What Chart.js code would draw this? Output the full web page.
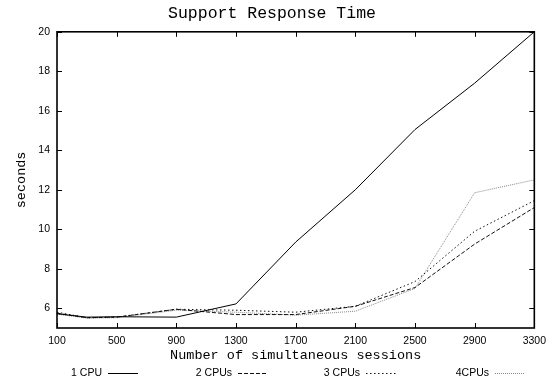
<!DOCTYPE html>
<html>
<head>
<meta charset="utf-8">
<script src="https://cdn.jsdelivr.net/npm/chart.js@4/dist/chart.umd.min.js"></script>
<style>
  html, body { margin: 0; padding: 0; background: #fff; }
  #wrap { width: 553px; height: 386px; }
</style>
</head>
<body>
<div id="wrap"><canvas id="response-chart"></canvas></div>
<script>
// values
const sessions = [100, 300, 500, 900, 1300, 1700, 2100, 2500, 2900, 3300];
const cpu1 = [5.72, 5.55, 5.57, 5.55, 6.22, 9.35, 12.0, 15.05, 17.4, 20.0];
const cpu2 = [5.75, 5.52, 5.55, 5.95, 5.68, 5.68, 6.1, 7.05, 9.25, 11.1];
const cpu3 = [5.8, 5.52, 5.55, 5.95, 5.9, 5.8, 6.1, 7.35, 9.9, 11.45];
const cpu4 = [5.7, 5.5, 5.52, 5.9, 5.8, 5.65, 5.85, 7.0, 11.85, 12.5];
const seriesLabels = ['1 CPU', '2 CPUs', '3 CPUs', '4CPUs'];
const xTicks = [100, 500, 900, 1300, 1700, 2100, 2500, 2900, 3300];
const yTicks = [6, 8, 10, 12, 14, 16, 18, 20];

const mono = "'Liberation Mono', 'Courier New', monospace";
const sans = "'Liberation Sans', Arial, sans-serif";

function toPoints(ys) {
    return sessions.map((x, i) => ({x: x, y: ys[i]}));
}

// gnuplot style frame with inward ticks on all four sides
const framePlugin = {
    id: 'frame',
    afterDraw(chart) {
        const {ctx, chartArea: a, scales} = chart;
        ctx.save();
        ctx.strokeStyle = '#000';
        ctx.lineWidth = 1;
        ctx.beginPath();
        scales.x.ticks.forEach(t => {
            const px = Math.round(scales.x.getPixelForValue(t.value)) + 0.5;
            ctx.moveTo(px, a.bottom); ctx.lineTo(px, a.bottom - 5);
            ctx.moveTo(px, a.top); ctx.lineTo(px, a.top + 5);
        });
        scales.y.ticks.forEach(t => {
            const py = Math.round(scales.y.getPixelForValue(t.value)) + 0.5;
            ctx.moveTo(a.left, py); ctx.lineTo(a.left + 5, py);
            ctx.moveTo(a.right, py); ctx.lineTo(a.right - 5, py);
        });
        ctx.stroke();
        ctx.lineWidth = 1.6;
        ctx.strokeRect(a.left, a.top, a.right - a.left, a.bottom - a.top);
        ctx.restore();
    }
};

// legend below: label text, then a line sample to its right
const keyPlugin = {
    id: 'key',
    afterDraw(chart) {
        const {ctx} = chart;
        const textEnds = [102, 232, 360, 489];
        const y = 373;
        ctx.save();
        ctx.font = '10.5px ' + sans;
        ctx.textAlign = 'right';
        ctx.textBaseline = 'middle';
        chart.data.datasets.forEach((ds, i) => {
            ctx.fillStyle = '#000';
            ctx.fillText(ds.label, textEnds[i], y);
            ctx.strokeStyle = ds.borderColor;
            ctx.lineWidth = ds.borderWidth;
            ctx.setLineDash(ds.borderDash || []);
            ctx.beginPath();
            ctx.moveTo(textEnds[i] + 6, y + 0.5);
            ctx.lineTo(textEnds[i] + 36, y + 0.5);
            ctx.stroke();
        });
        ctx.restore();
    }
};

const responseChart = new Chart(document.getElementById('response-chart').getContext('2d'), {
    type: 'line',
    data: {
        datasets: [
            {label: seriesLabels[0], data: toPoints(cpu1), borderColor: '#000', borderWidth: 1, borderDash: []},
            {label: seriesLabels[1], data: toPoints(cpu2), borderColor: '#111', borderWidth: 1, borderDash: [4, 2]},
            {label: seriesLabels[2], data: toPoints(cpu3), borderColor: '#111', borderWidth: 1, borderDash: [1.5, 2.5]},
            {label: seriesLabels[3], data: toPoints(cpu4), borderColor: '#888', borderWidth: 1, borderDash: [1, 1]}
        ]
    },
    options: {
        responsive: true,
        maintainAspectRatio: false,
        animation: false,
        elements: {
            point: {radius: 0},
            line: {tension: 0, fill: false}
        },
        layout: {padding: {left: 9, right: 18, top: 0, bottom: 22}},
        plugins: {
            legend: {display: false},
            tooltip: {enabled: false},
            title: {
                display: true,
                text: 'Support Response Time',
                color: '#000',
                font: {family: mono, size: 16.5, weight: 'normal'},
                padding: {top: 4, bottom: 8}
            }
        },
        scales: {
            x: {
                type: 'linear',
                min: 100,
                max: 3300,
                afterBuildTicks: scale => { scale.ticks = xTicks.map(v => ({value: v})); },
                afterFit: scale => { scale.height = 36; },
                grid: {display: false, drawTicks: false},
                border: {display: false},
                ticks: {color: '#000', font: {family: sans, size: 10.5}, padding: 7, maxRotation: 0,
                        callback: v => String(v)},
                title: {
                    display: true,
                    text: 'Number of simultaneous sessions',
                    color: '#000',
                    font: {family: mono, size: 13.5},
                    padding: {top: 4, bottom: 0}
                }
            },
            y: {
                min: 5,
                max: 20,
                afterBuildTicks: scale => { scale.ticks = yTicks.map(v => ({value: v})); },
                afterFit: scale => { scale.width = 48; },
                grid: {display: false, drawTicks: false},
                border: {display: false},
                ticks: {color: '#000', font: {family: sans, size: 10.5}, padding: 7,
                        callback: v => String(v)},
                title: {
                    display: true,
                    text: 'seconds',
                    color: '#000',
                    font: {family: mono, size: 13.5},
                    padding: {top: 4, bottom: 0}
                }
            }
        }
    },
    plugins: [framePlugin, keyPlugin]
});
</script>
</body>
</html>
